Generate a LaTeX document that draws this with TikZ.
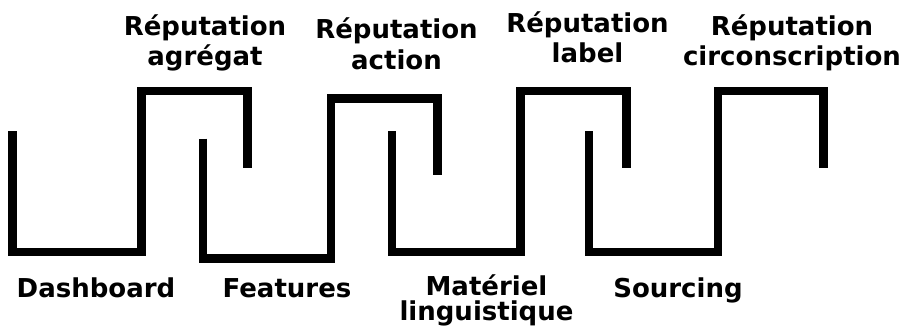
\documentclass[tikz,border=0pt]{standalone}
\usepackage{fontspec}
\setmainfont{DejaVu Sans}
\begin{document}
\begin{tikzpicture}[x=1pt,y=-1pt,
  meander/.style={draw=black,line width=8.5pt,line cap=butt,line join=miter},
  toplabel/.style={font=\bfseries\fontsize{26}{30.5}\selectfont,text width=260pt,align=center,anchor=base,inner sep=0pt},
  botlabel/.style={font=\bfseries\fontsize{26}{25}\selectfont,text width=260pt,align=center,anchor=base,inner sep=0pt}]
\useasboundingbox (0,0) rectangle (906,330);
% meander pieces
\draw[meander] (12.5,131) -- (12.5,252) -- (141.5,252) -- (141.5,91) -- (247.5,91) -- (247.5,168);
\draw[meander] (203,138.5) -- (203,258.5) -- (331,258.5) -- (331,98.5) -- (437.5,98.5) -- (437.5,175);
\draw[meander] (392,131) -- (392,252) -- (520.5,252) -- (520.5,91) -- (626.5,91) -- (626.5,168);
\draw[meander] (589,131) -- (589,252) -- (718,252) -- (718,91) -- (823.5,91) -- (823.5,168);
% top labels
\node[toplabel] (ragg) at (205,35) {Réputation\\agrégat};
\node[toplabel] (ract) at (396.5,38.5) {Réputation\\action};
\node[toplabel] (rlab) at (587.5,32) {Réputation\\label};
\node[toplabel] (rcir) at (792,35) {Réputation\\circonscription};
% bottom labels
\node[botlabel] (dash) at (96,297.5) {Dashboard};
\node[botlabel] (feat) at (287,297.5) {Features};
\node[botlabel] (mat) at (486.5,295) {Matériel\\linguistique};
\node[botlabel] (src) at (678,297.5) {Sourcing};
\end{tikzpicture}
\end{document}
